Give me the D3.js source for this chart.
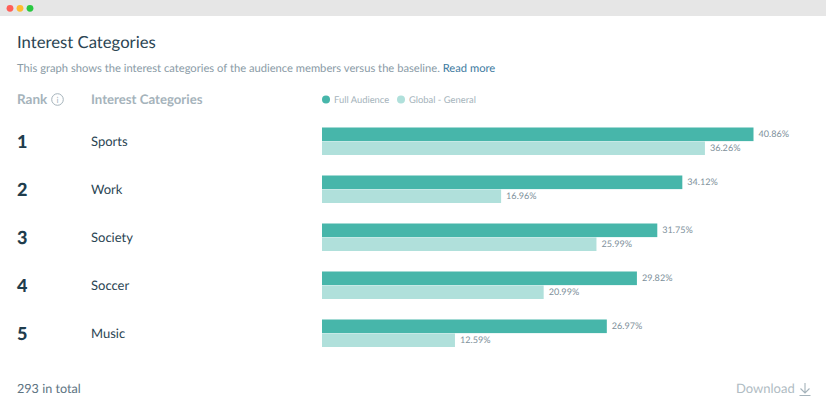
<!DOCTYPE html>
<html>
<head>
<meta charset="utf-8">
<script src="https://cdn.jsdelivr.net/npm/d3@7"></script>
<style>
  html, body { margin: 0; padding: 0; background: #fff; }
  svg { display: block; font-family: Lato, sans-serif; text-rendering: geometricPrecision; }
</style>
</head>
<body>
<div id="chart"></div>
<script>
// values
var categories = ['Sports', 'Work', 'Society', 'Soccer', 'Music'];
var ranks = [1, 2, 3, 4, 5];
var fullAudience = [40.86, 34.12, 31.75, 29.82, 26.97];
var globalGeneral = [36.26, 16.96, 25.99, 20.99, 12.59];
var seriesNames = ['Full Audience', 'Global - General'];
var seriesColors = ['#47b6aa', '#b0e0db'];
var windowDots = ['#ff5f57', '#febc2e', '#28c840'];

var width = 826;
var height = 410;

var svg = d3.select('#chart').append('svg')
  .attr('width', width)
  .attr('height', height)
  .attr('viewBox', `0 0 ${width} ${height}`);

// window chrome
svg.append('rect').attr('width', width).attr('height', 16).attr('fill', '#e6e6e6');
svg.selectAll('.dot').data(windowDots).enter().append('circle')
  .attr('class', 'dot')
  .attr('cx', (d, i) => 10 + i * 10)
  .attr('cy', 8.3)
  .attr('r', 3.4)
  .attr('fill', d => d);

function label(x, y, text, size, color, weight) {
  return svg.append('text')
    .attr('x', x)
    .attr('y', y)
    .attr('font-size', size)
    .attr('fill', color)
    .attr('font-weight', weight || 400)
    .text(text);
}

// header
label(17, 48, 'Interest Categories', 16.7, '#2b4553');
var intro = label(17, 72, 'This graph shows the interest categories of the audience members versus the baseline. ', 11.2, '#8a9ba6');
intro.append('tspan').attr('fill', '#3d7ba0').text('Read more');

label(17, 104, 'Rank', 13.5, '#a5b3bb', 700);
label(91, 104, 'Interest Categories', 13.2, '#a5b3bb', 700);

// info icon next to rank
var info = svg.append('g').attr('transform', 'translate(57.5,99.5)');
info.append('circle').attr('r', 5.8).attr('fill', 'none').attr('stroke', '#a5b3bb').attr('stroke-width', 1);
info.append('text').attr('text-anchor', 'middle').attr('y', 3.2).attr('font-size', 8.5).attr('fill', '#a5b3bb').text('i');

// legend
var legendX = d3.scaleOrdinal().domain(seriesNames).range([322, 397]);
var legend = svg.selectAll('.legend').data(seriesNames).enter().append('g')
  .attr('class', 'legend')
  .attr('transform', d => `translate(${legendX(d)},99.5)`);
legend.append('circle')
  .attr('cx', 4)
  .attr('r', 4)
  .attr('fill', (d, i) => seriesColors[i]);
legend.append('text')
  .attr('x', 12)
  .attr('y', 3.5)
  .attr('font-size', 9.4)
  .attr('fill', '#a5b3bb')
  .text(d => d);

// scales
var x = d3.scaleLinear().domain([0, 40.86]).range([322, 753.5]);
var y = d3.scaleBand().domain(categories).range([117, 357]);
var ySeries = d3.scaleBand().domain(seriesNames).range([0, 27.5]).paddingInner(0.02);

var rows = svg.selectAll('.row')
  .data(categories)
  .enter().append('g')
  .attr('class', 'row')
  .attr('transform', d => `translate(0,${y(d) + y.bandwidth() / 2})`);

rows.append('text')
  .attr('x', 17)
  .attr('y', 6.5)
  .attr('font-size', 18)
  .attr('font-weight', 900)
  .attr('fill', '#1f3d4d')
  .text((d, i) => ranks[i]);

rows.append('text')
  .attr('x', 91)
  .attr('y', 5)
  .attr('font-size', 13)
  .attr('fill', '#2b4553')
  .text(d => d);

[fullAudience, globalGeneral].forEach(function(values, s) {
  var name = seriesNames[s];
  var top = ySeries(name) - 13.5;
  rows.append('rect')
    .attr('x', x(0))
    .attr('y', top)
    .attr('width', (d, i) => x(values[i]) - x(0))
    .attr('height', ySeries.bandwidth())
    .attr('fill', seriesColors[s]);
  rows.append('text')
    .attr('x', (d, i) => x(values[i]) + 5)
    .attr('y', top + ySeries.bandwidth() / 2 + 3)
    .attr('font-size', 9.1)
    .attr('fill', '#7d8f9a')
    .text((d, i) => values[i].toFixed(2) + '%');
});

// footer
label(17, 393, '293 in total', 12.6, '#5d7482');
label(736, 393, 'Download', 13, '#b0bcc3');
svg.append('path')
  .attr('d', 'M805 383V392.5M800.5 388.5L805 393L809.5 388.5M799.5 395.5H810.5')
  .attr('fill', 'none')
  .attr('stroke', '#a5b3bb')
  .attr('stroke-width', 1.1);
</script>
</body>
</html>
